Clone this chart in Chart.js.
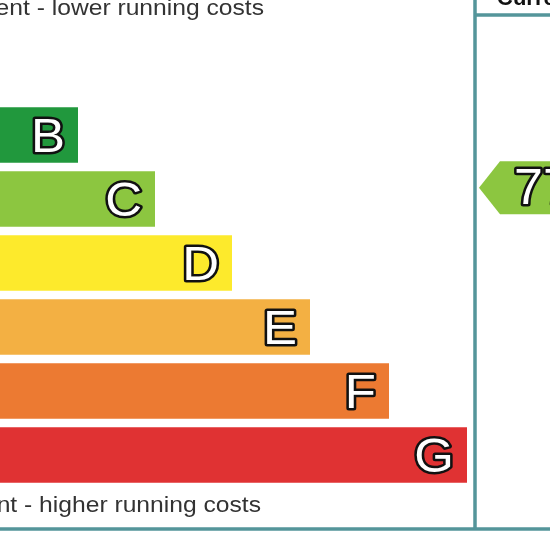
<!DOCTYPE html>
<html>
<head>
<meta charset="utf-8">
<script src="https://cdn.jsdelivr.net/npm/chart.js@4"></script>
<style>
  body { margin: 0; background: #fff; }
  canvas { display: block; }
</style>
</head>
<body>
<canvas id="epc" width="550" height="550"></canvas>
<script>
// energy bands, visible part of the EPC graph
const bands = ['A', 'B', 'C', 'D', 'E', 'F', 'G']
const barLengths = [0, 78, 155, 232, 310, 389, 467]
const bandColors = ['#0f8c3f', '#21983d', '#8cc640', '#fdea2c', '#f3b043', '#ec7a32', '#e03233']
const bandLow = [92, 81, 69, 55, 39, 21, 1]
const bandHigh = [100, 91, 80, 68, 54, 38, 20]

const topText = 'Very energy efficient - lower running costs'
const bottomText = 'Not energy efficient - higher running costs'
const currentTitle = 'Current'
const currentScore = 77
const currentBand = 'C'

const lineColor = '#54959a'
const font = '"Liberation Sans", Arial, sans-serif'
const stretch = 1.12   // the source image is a bit wider than tall

function outlined(ctx, text, x, y) {
    ctx.lineJoin = 'round'
    ctx.lineWidth = 5
    ctx.strokeStyle = '#111'
    ctx.strokeText(text, x, y)
    ctx.fillStyle = '#fff'
    ctx.fillText(text, x, y)
}

const epcPlugin = {
    id: 'epc',
    afterDatasetsDraw(chart) {
        const ctx = chart.ctx
        const meta = chart.getDatasetMeta(0)
        const yScale = chart.scales.y
        const area = chart.chartArea

        // band letters inside the bars
        meta.data.forEach((bar, i) => {
            if (barLengths[i] < 40) return
            ctx.save()
            ctx.translate(bar.x - 13, bar.y + 3)
            ctx.scale(1.04, 1)
            ctx.font = '49px ' + font
            ctx.textAlign = 'right'
            ctx.textBaseline = 'middle'
            outlined(ctx, bands[i], 0, 0)
            ctx.restore()
        })

        // texts above and below
        ctx.save()
        ctx.scale(stretch, 1)
        ctx.fillStyle = '#333'
        ctx.font = '22px ' + font
        ctx.textAlign = 'right'
        ctx.textBaseline = 'alphabetic'
        ctx.fillText(topText, 264 / stretch, 15)
        ctx.fillText(bottomText, 261 / stretch, 512)
        ctx.restore()

        // frame lines
        ctx.save()
        ctx.strokeStyle = lineColor
        ctx.lineWidth = 3.5
        ctx.beginPath()
        ctx.moveTo(area.right, 0)
        ctx.lineTo(area.right, 529)
        ctx.moveTo(0, 529)
        ctx.lineTo(550, 529)
        ctx.moveTo(area.right, 15)
        ctx.lineTo(550, 15)
        ctx.stroke()
        ctx.restore()

        ctx.save()
        ctx.fillStyle = '#111'
        ctx.font = 'bold 22px ' + font
        ctx.textAlign = 'left'
        ctx.fillText(currentTitle, 497, 5)
        ctx.restore()

        // current rating arrow
        const bi = bands.indexOf(currentBand)
        const step = yScale.getPixelForValue(1) - yScale.getPixelForValue(0)
        const rowTop = yScale.getPixelForValue(bi) - step / 2
        const frac = (bandHigh[bi] + 0.5 - currentScore) / (bandHigh[bi] - bandLow[bi] + 1)
        const cy = rowTop + frac * step + 2
        const half = 26.5
        const tip = area.right + 4
        ctx.save()
        ctx.fillStyle = bandColors[bi]
        ctx.beginPath()
        ctx.moveTo(tip, cy)
        ctx.lineTo(tip + 21, cy - half)
        ctx.lineTo(560, cy - half)
        ctx.lineTo(560, cy + half)
        ctx.lineTo(tip + 21, cy + half)
        ctx.closePath()
        ctx.fill()
        ctx.translate(514, cy + 3)
        ctx.scale(1.04, 1)
        ctx.font = '50px ' + font
        ctx.textAlign = 'left'
        ctx.textBaseline = 'middle'
        outlined(ctx, String(currentScore), 0, 0)
        ctx.restore()
    }
}

new Chart(document.getElementById('epc'), {
    type: 'bar',
    data: {
        labels: bands,
        datasets: [{
            data: barLengths,
            backgroundColor: bandColors,
            borderWidth: 0,
            categoryPercentage: 1,
            barPercentage: 0.87
        }]
    },
    options: {
        indexAxis: 'y',
        responsive: false,
        animation: false,
        layout: { padding: { top: 39, bottom: 63, left: 0, right: 75 } },
        plugins: { legend: { display: false }, tooltip: { enabled: false } },
        scales: {
            x: { display: false, min: 0, max: 475 },
            y: { display: false }
        }
    },
    plugins: [epcPlugin]
})
</script>
</body>
</html>
